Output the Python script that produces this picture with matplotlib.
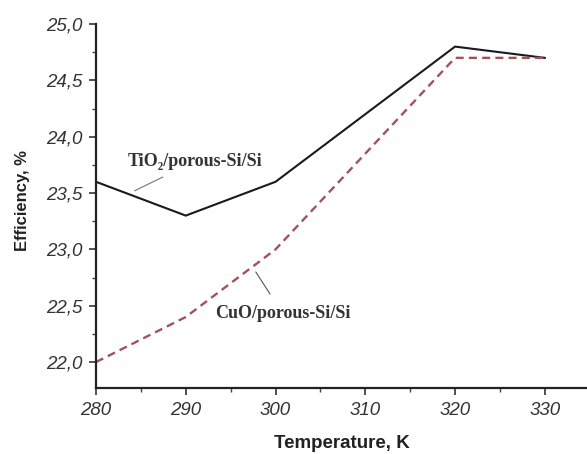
import matplotlib
matplotlib.use("Agg")
import matplotlib.pyplot as plt
from matplotlib.ticker import MultipleLocator, FuncFormatter

temperature = [280, 290, 300, 310, 320, 330]
eff_tio2 = [23.6, 23.3, 23.6, 24.2, 24.8, 24.7]
eff_cuo = [22.0, 22.4, 23.0, 23.85, 24.7, 24.7]

x_ticks = [280, 290, 300, 310, 320, 330]
y_ticks = [22.0, 22.5, 23.0, 23.5, 24.0, 24.5, 25.0]

fig = plt.figure(figsize=(5.87, 4.54), dpi=100)
ax = fig.add_axes([0.1635, 0.1454, 0.8365, 0.8016])

ax.plot(temperature, eff_tio2, color="#1a1a1a", lw=1.5, solid_joinstyle="miter")
ax.plot(temperature, eff_cuo, color="#a3525a", lw=1.7, ls=(0, (3.4, 2.2)))

ax.set_xlim(280, 334.7)
ax.set_ylim(21.77, 25.0)

for s in ("top", "right"):
    ax.spines[s].set_visible(False)
for s in ("left", "bottom"):
    ax.spines[s].set_linewidth(1.6)
    ax.spines[s].set_color("#222222")

ax.set_xticks(x_ticks)
ax.set_yticks(y_ticks)
ax.xaxis.set_minor_locator(MultipleLocator(5))
ax.yaxis.set_minor_locator(MultipleLocator(0.25))
ax.yaxis.set_major_formatter(FuncFormatter(lambda v, p: f"{v:.1f}".replace(".", ",")))
ax.tick_params(which="major", direction="out", length=5, width=1.2, color="#333333")
ax.tick_params(which="minor", direction="out", length=3, width=1.0, color="#444444")
ax.tick_params(axis="x", which="major", pad=5)
ax.tick_params(axis="y", which="major", pad=5)

for lbl in ax.get_xticklabels() + ax.get_yticklabels():
    lbl.set_fontfamily("Liberation Sans")
    lbl.set_fontstyle("italic")
    lbl.set_fontsize(13.5)
    lbl.set_color("#333333")

ax.set_xlabel("Temperature, K", family="Liberation Sans", weight="bold",
              size=13.5, color="#222222", va="center")
ax.set_ylabel("Efficiency, %", family="Liberation Sans", weight="bold",
              size=12, color="#222222", va="center")
ax.xaxis.set_label_coords(0.5, -0.152)
ax.yaxis.set_label_coords(-0.15, 0.514)

label_font = dict(family=["Liberation Serif", "DejaVu Serif"], weight="bold",
                  size=13, color="#333333")
ax.annotate("TiO₂/porous-Si/Si", xy=(284.3, 23.52), xytext=(291.0, 23.78),
            ha="center", va="center", **label_font,
            arrowprops=dict(arrowstyle="-", color="#777777", lw=0.8,
                            shrinkA=7, shrinkB=0))
ax.annotate("CuO/porous-Si/Si", xy=(297.8, 22.80), xytext=(300.8, 22.43),
            ha="center", va="center", **label_font,
            arrowprops=dict(arrowstyle="-", color="#555555", lw=0.8,
                            shrinkA=7, shrinkB=0))

fig.savefig("out.png", dpi=100)
